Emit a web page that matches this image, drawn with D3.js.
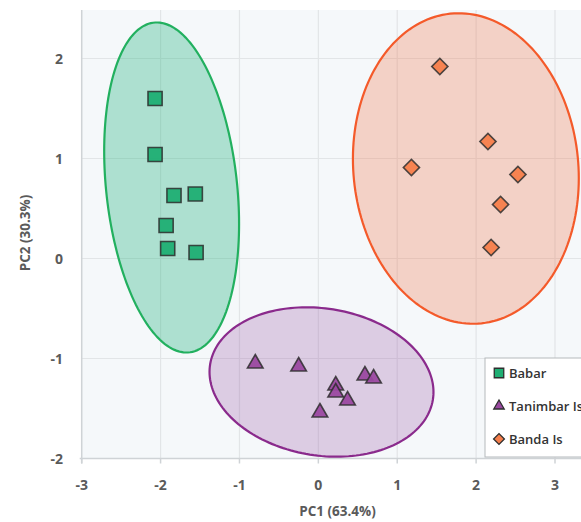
<!DOCTYPE html>
<html>
<head>
<meta charset="utf-8">
<script src="https://cdn.jsdelivr.net/npm/d3@7"></script>
<style>
  html, body { margin: 0; padding: 0; background: #fff; overflow: hidden; }
  svg { display: block; font-family: "Open Sans", sans-serif; }
</style>
</head>
<body>
<div id="graphique"></div>
<script>
// ACP — trois groupes d'îles, ellipses de confiance

const groupes = ["Babar", "Tanimbar Is", "Banda Is"];

const babarPC1 = [-2.07, -2.07, -1.83, -1.56, -1.93, -1.91, -1.55];
const babarPC2 = [1.60, 1.04, 0.63, 0.645, 0.33, 0.10, 0.06];

const tanimbarPC1 = [-0.80, -0.25, 0.22, 0.22, 0.37, 0.02, 0.59, 0.70];
const tanimbarPC2 = [-1.05, -1.08, -1.27, -1.34, -1.42, -1.54, -1.17, -1.20];

const bandaPC1 = [1.54, 2.15, 1.18, 2.53, 2.31, 2.19];
const bandaPC2 = [1.92, 1.17, 0.91, 0.84, 0.54, 0.11];

// ellipses : centre + matrice de forme (xx, yy, xy) en unités PC
const ellCentreX = [-1.86, 0.04, 1.87];
const ellCentreY = [0.71, -1.235, 0.90];
const ellXX = [0.731, 2.015, 2.05];
const ellYY = [2.723, 0.558, 2.41];
const ellXY = [-0.311, -0.143, -0.139];

const ticksX = [-3, -2, -1, 0, 1, 2, 3];
const ticksY = [-2, -1, 0, 1, 2];

const largeur = 581, hauteur = 522;
const couleurs = {
  trait:  ["#22b05f", "#8a2a8c", "#f45a2a"],
  fond:   ["rgba(40,180,130,0.35)", "rgba(155,90,170,0.28)", "rgba(240,120,80,0.30)"],
  point:  ["#1fae73", "#9a48a0", "#f57e4b"]
};
// losange = carré tourné de 45°
const formes = [d3.symbolSquare, d3.symbolTriangle, d3.symbolSquare];
const rotations = [0, 0, 45];
const tailles = [200, 105, 130];

const x = d3.scaleLinear().domain([-3, 3]).range([81.7, 555]);
const y = d3.scaleLinear().domain([-2, 2]).range([458.5, 58.5]);

const svg = d3.select("#graphique").append("svg")
    .attr("width", largeur).attr("height", hauteur);

// fond du graphique
svg.append("rect")
    .attr("x", x(-3)).attr("y", 10)
    .attr("width", largeur - x(-3)).attr("height", y(-2) - 10)
    .attr("fill", "#f5f8fa");

// grille
svg.append("g").selectAll("line").data(ticksX.slice(1)).join("line")
    .attr("x1", d => x(d)).attr("x2", d => x(d))
    .attr("y1", 10).attr("y2", y(-2))
    .attr("stroke", "#e2e5e7").attr("stroke-width", 1.2);
svg.append("g").selectAll("line").data(ticksY.slice(1)).join("line")
    .attr("x1", x(-3)).attr("x2", largeur)
    .attr("y1", d => y(d)).attr("y2", d => y(d))
    .attr("stroke", "#e2e5e7").attr("stroke-width", 1.2);

// axes (lignes)
svg.append("line")
    .attr("x1", x(-3)).attr("x2", x(-3)).attr("y1", 10).attr("y2", y(-2) + 5)
    .attr("stroke", "#cfd3d6").attr("stroke-width", 1.5);
svg.append("line")
    .attr("x1", x(-3) - 2).attr("x2", largeur).attr("y1", y(-2)).attr("y2", y(-2))
    .attr("stroke", "#cfd3d6").attr("stroke-width", 1.5);
svg.append("g").selectAll("line").data(ticksX).join("line")
    .attr("x1", d => x(d)).attr("x2", d => x(d))
    .attr("y1", y(-2)).attr("y2", y(-2) + 5)
    .attr("stroke", "#cfd3d6").attr("stroke-width", 1.5);

// étiquettes des graduations
svg.append("g").selectAll("text").data(ticksX).join("text")
    .attr("x", d => x(d)).attr("y", 490)
    .attr("text-anchor", "middle")
    .attr("font-size", 14).attr("font-weight", 700).attr("fill", "#5a5a5a")
    .text(d => d);
svg.append("g").selectAll("text").data(ticksY).join("text")
    .attr("x", 63).attr("y", d => y(d) + 5)
    .attr("text-anchor", "end")
    .attr("font-size", 14).attr("font-weight", 700).attr("fill", "#5a5a5a")
    .text(d => d);

// titres des axes
svg.append("text")
    .attr("x", 337.5).attr("y", 516)
    .attr("text-anchor", "middle")
    .attr("font-size", 13.5).attr("font-weight", 700).attr("fill", "#5a5a5a")
    .text("PC1 (63.4%)");
svg.append("text")
    .attr("transform", "translate(30,233) rotate(-90)")
    .attr("text-anchor", "middle")
    .attr("font-size", 13.5).attr("font-weight", 700).attr("fill", "#5a5a5a")
    .text("PC2 (30.3%)");

// ellipses — Cholesky de la matrice de forme
const ligne = d3.line().x(d => x(d[0])).y(d => y(d[1])).curve(d3.curveLinearClosed);
const gEll = svg.append("g");
groupes.forEach((g, i) => {
  const a = Math.sqrt(ellXX[i]);
  const b = ellXY[i] / a;
  const c = Math.sqrt(ellYY[i] - b * b);
  const pts = d3.range(0, 2 * Math.PI, Math.PI / 90).map(t => [
    ellCentreX[i] + a * Math.cos(t),
    ellCentreY[i] + b * Math.cos(t) + c * Math.sin(t)
  ]);
  gEll.append("path")
      .attr("d", ligne(pts))
      .attr("fill", couleurs.fond[i])
      .attr("stroke", couleurs.trait[i])
      .attr("stroke-width", 2.2);
});

// points
const series = [
  d3.zip(babarPC1, babarPC2),
  d3.zip(tanimbarPC1, tanimbarPC2),
  d3.zip(bandaPC1, bandaPC2)
];
const gPts = svg.append("g");
series.forEach((s, i) => {
  gPts.append("g").selectAll("path").data(s).join("path")
      .attr("transform", d => `translate(${x(d[0])},${y(d[1])}) rotate(${rotations[i]})`)
      .attr("d", d3.symbol().type(formes[i]).size(tailles[i]))
      .attr("fill", couleurs.point[i])
      .attr("fill-opacity", 0.95)
      .attr("stroke", "#2e2e2e")
      .attr("stroke-opacity", 0.85)
      .attr("stroke-width", 1.6);
});

// légende
const leg = svg.append("g").attr("transform", "translate(485,358)");
leg.append("rect")
    .attr("width", 130).attr("height", 99)
    .attr("fill", "#ffffff").attr("stroke", "#b5b9bc").attr("stroke-width", 1);
groupes.forEach((g, i) => {
  const ly = 15 + i * 33;
  leg.append("path")
      .attr("transform", `translate(14,${ly}) rotate(${rotations[i]})`)
      .attr("d", d3.symbol().type(formes[i]).size(tailles[i] * 0.45))
      .attr("fill", couleurs.point[i])
      .attr("stroke", "#2e2e2e").attr("stroke-width", 1.3);
  leg.append("text")
      .attr("x", 24).attr("y", ly + 5)
      .attr("font-size", 13).attr("font-weight", 600).attr("fill", "#333")
      .text(g);
});
</script>
</body>
</html>
